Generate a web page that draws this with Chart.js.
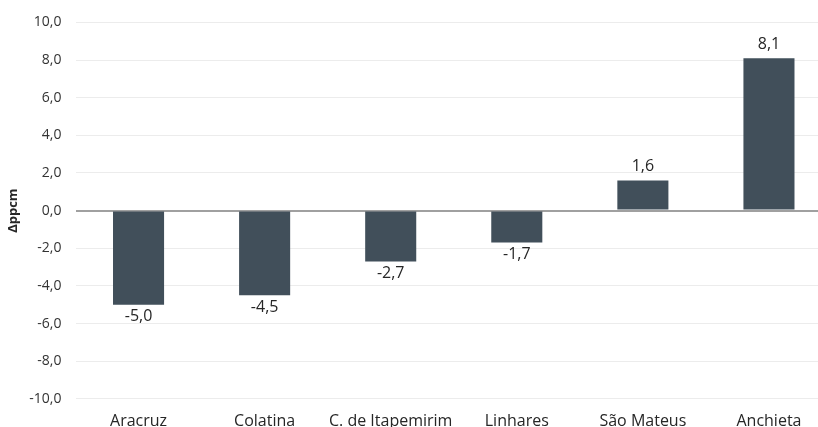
<!DOCTYPE html>
<html>
<head>
<meta charset="utf-8">
<script src="https://cdn.jsdelivr.net/npm/chart.js@4"></script>
<style>
  html, body { margin: 0; padding: 0; overflow: hidden; background: #fff; }
  #wrap { width: 832px; height: 436px; }
</style>
</head>
<body>
<div id="wrap"><canvas id="chart"></canvas></div>
<script>
const categories = ['Aracruz', 'Colatina', 'C. de Itapemirim', 'Linhares', 'São Mateus', 'Anchieta'];
const values = [-5.0, -4.5, -2.7, -1.7, 1.6, 8.1];
const yTicks = [-10, -8, -6, -4, -2, 0, 2, 4, 6, 8, 10];

const fmt = v => v.toFixed(1).replace('.', ',');

// value labels above / below each bar
const barLabels = {
  id: 'barLabels',
  afterDatasetsDraw(chart) {
    const ctx = chart.ctx;
    const meta = chart.getDatasetMeta(0);
    ctx.save();
    ctx.font = '16px "Open Sans", sans-serif';
    ctx.fillStyle = '#262626';
    ctx.textAlign = 'center';
    ctx.textBaseline = 'middle';
    meta.data.forEach((bar, i) => {
      const v = values[i];
      const y = v >= 0 ? bar.y - 14 : bar.y + 12;
      ctx.fillText(fmt(v), bar.x, y);
    });
    ctx.restore();
  }
};

new Chart(document.getElementById('chart'), {
  type: 'bar',
  data: {
    labels: categories,
    datasets: [{
      data: values,
      backgroundColor: '#414f5a',
      borderWidth: 0,
      categoryPercentage: 1,
      barPercentage: 0.405
    }]
  },
  options: {
    responsive: true,
    maintainAspectRatio: false,
    animation: false,
    layout: { padding: { top: 21, left: 5, right: 0, bottom: 0 } },
    plugins: {
      legend: { display: false },
      tooltip: { enabled: false }
    },
    scales: {
      x: {
        grid: { display: false },
        border: { display: false },
        ticks: {
          color: '#262626',
          font: { family: '"Open Sans", sans-serif', size: 16 },
          padding: 5,
          maxRotation: 0,
          autoSkip: false
        }
      },
      y: {
        min: -10,
        max: 10,
        afterBuildTicks: s => { s.ticks = yTicks.map(v => ({ value: v })); },
        afterFit: s => { s.width = 70.5; },
        border: { display: false },
        grid: {
          drawTicks: false,
          color: c => c.tick && c.tick.value === 0 ? '#a0a0a0' : '#ececec',
          lineWidth: c => c.tick && c.tick.value === 0 ? 2 : 1
        },
        ticks: {
          color: '#333333',
          font: { family: '"Open Sans", sans-serif', size: 14 },
          padding: 14,
          callback: v => fmt(v)
        },
        title: {
          display: true,
          text: 'Δppcm',
          color: '#262626',
          font: { family: '"Open Sans", sans-serif', size: 13, weight: 'bold' },
          padding: { top: 0, bottom: 0 }
        }
      }
    }
  },
  plugins: [barLabels]
});
</script>
</body>
</html>
